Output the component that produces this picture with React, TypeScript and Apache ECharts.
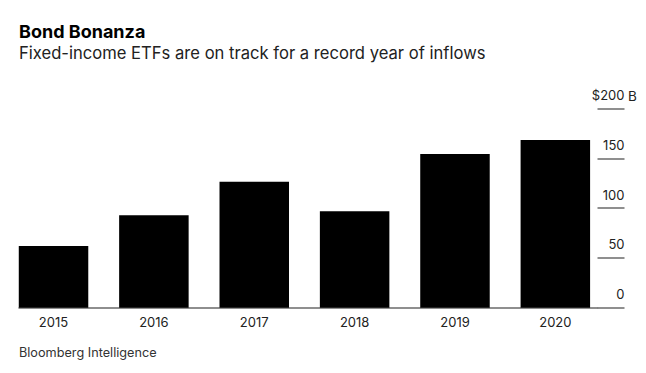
import React, { useEffect, useRef } from "react";
import * as echarts from "echarts";

const years = ["2015", "2016", "2017", "2018", "2019", "2020"];
const inflows = [62, 93, 126.5, 97, 154.5, 168.5];
const yTicks = [0, 50, 100, 150, 200];

const FONT = 'Inter, "Liberation Sans", Arial, sans-serif';
const AXIS_GRAY = "#6a6a6a";

export default function App() {
  const ref = useRef<HTMLDivElement>(null);
  useEffect(() => {
    if (!ref.current) return;
    const chart = echarts.init(ref.current, undefined, { renderer: "svg" });
    const idx = years.map((_, i) => i);
    chart.setOption({
      animation: false,
      backgroundColor: "#ffffff",
      textStyle: { fontFamily: FONT },
      title: [
        {
          text: "Bond Bonanza",
          subtext: "Fixed-income ETFs are on track for a record year of inflows",
          left: 19,
          top: 22,
          padding: 0,
          itemGap: 4,
          textStyle: { fontSize: 18, fontWeight: "bold", color: "#000", fontFamily: FONT, lineHeight: 18 },
          subtextStyle: { fontSize: 16.6, color: "#222", fontFamily: FONT, lineHeight: 18 },
        },
        {
          text: "Bloomberg Intelligence",
          left: 19,
          top: 346,
          padding: 0,
          textStyle: { fontSize: 12.7, fontWeight: "normal", color: "#333", fontFamily: FONT },
        },
      ],
      graphic: [
        {
          type: "text",
          left: 628,
          top: 88.5,
          style: { text: "B", fontSize: 13.5, fill: "#222", fontFamily: FONT },
        },
      ],
      grid: { left: 19, right: 48.5, top: 108.7, bottom: 65.3, containLabel: false },
      xAxis: {
        type: "value",
        min: -0.344,
        max: 5.42,
        axisLine: { show: true, onZero: false, lineStyle: { color: AXIS_GRAY, width: 1.5 } },
        axisTick: { show: false },
        splitLine: { show: false },
        axisLabel: {
          customValues: idx,
          formatter: (v: number) => years[Math.round(v)] ?? "",
          fontSize: 13,
          color: "#222",
          margin: 8,
          fontFamily: FONT,
        },
      },
      yAxis: {
        type: "value",
        position: "right",
        min: 0,
        max: 200,
        interval: 50,
        axisLine: { show: false, onZero: false },
        splitLine: { show: false },
        axisTick: {
          show: true,
          inside: false,
          length: 27,
          lineStyle: { color: AXIS_GRAY, width: 1.5 },
        },
        axisLabel: {
          margin: 27,
          align: "right",
          verticalAlign: "bottom",
          padding: [0, 0, 7, 0],
          fontSize: 13,
          color: "#222",
          fontFamily: FONT,
          formatter: (v: number) => (v === yTicks[yTicks.length - 1] ? "$" + v : String(v)),
        },
      },
      series: [
        {
          type: "bar",
          data: inflows.map((v, i) => [i, v]),
          barWidth: 69.5,
          itemStyle: { color: "#000" },
        },
      ],
    });
    return () => chart.dispose();
  }, []);
  return (
    <div
      ref={ref}
      style={{ position: "fixed", left: 0, top: 0, width: 646, height: 373 }}
    />
  );
}
